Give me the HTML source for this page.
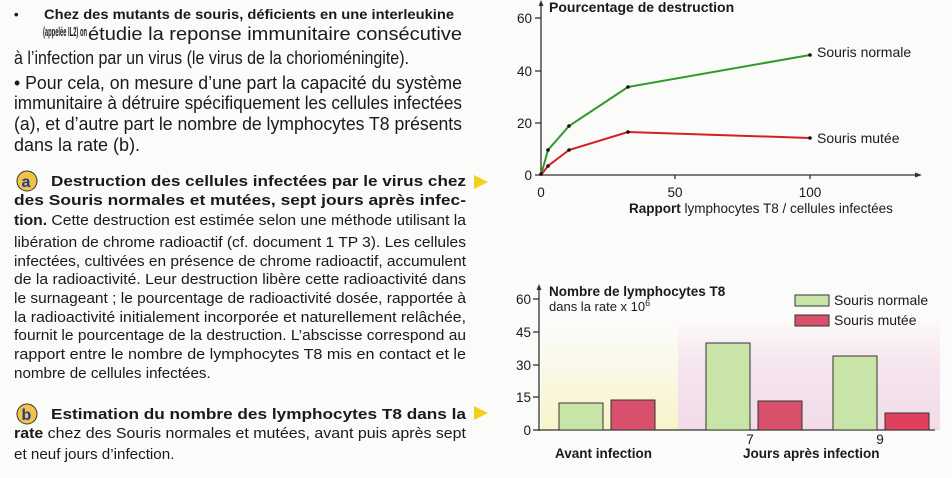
<!DOCTYPE html>
<html><head><meta charset="utf-8">
<style>
html,body{margin:0;padding:0;background:#fbfbf9;}
svg{display:block}
text{font-family:"Liberation Sans",sans-serif;fill:#1a1a1a}
.b{font-weight:bold}
.s17{font-size:18px}
.s14{font-size:15.2px}
.h{font-size:15px;font-weight:bold}
.ax{font-size:13.5px}
</style></head><body>
<svg width="952" height="478" viewBox="0 0 952 478" xmlns="http://www.w3.org/2000/svg">
<defs>
<linearGradient id="yel" x1="0" y1="0" x2="0" y2="1"><stop offset="0" stop-color="#fbfbf9"/><stop offset="1" stop-color="#f8f3c8"/></linearGradient>
<linearGradient id="pk" x1="0" y1="0" x2="0" y2="1"><stop offset="0" stop-color="#fbfbf9"/><stop offset="0.4" stop-color="#f6e4ee"/><stop offset="1" stop-color="#f1dce8"/></linearGradient>
</defs>
<rect width="952" height="478" fill="#fbfbf9"/>

<!-- left text -->
<text x="14" y="19" class="b" style="font-size:13px">•</text>
<text x="44" y="19" class="b" style="font-size:13.5px" textLength="410" lengthAdjust="spacingAndGlyphs">Chez des mutants de souris, déficients en une interleukine</text>
<text x="43" y="36" class="b" style="font-size:12.5px" textLength="44" lengthAdjust="spacingAndGlyphs">(appelée IL2) on</text>
<text x="88" y="40" class="s17" textLength="374" lengthAdjust="spacingAndGlyphs">étudie la reponse immunitaire consécutive</text>
<text x="14" y="64" class="s17" textLength="395" lengthAdjust="spacingAndGlyphs">à l’infection par un virus (le virus de la chorioméningite).</text>
<text x="14" y="89" class="s17" textLength="448" lengthAdjust="spacingAndGlyphs">• Pour cela, on mesure d’une part la capacité du système</text>
<text x="14" y="109" class="s17" textLength="448" lengthAdjust="spacingAndGlyphs">immunitaire à détruire spécifiquement les cellules infectées</text>
<text x="14" y="130" class="s17" textLength="448" lengthAdjust="spacingAndGlyphs">(a), et d’autre part le nombre de lymphocytes T8 présents</text>
<text x="14" y="151" class="s17">dans la rate (b).</text>

<circle cx="27" cy="181" r="10" fill="#f2c24a" stroke="#333" stroke-width="1"/>
<text x="21.5" y="187" class="b" style="font-size:16px;fill:#1c3c8c">a</text>
<text x="51" y="186" class="h" textLength="415" lengthAdjust="spacingAndGlyphs">Destruction des cellules infectées par le virus chez</text>
<text x="14" y="205" class="h" textLength="452" lengthAdjust="spacingAndGlyphs">des Souris normales et mutées, sept jours après infec-</text>
<text x="14" y="225" class="s14" textLength="452" lengthAdjust="spacingAndGlyphs"><tspan class="b">tion.</tspan> Cette destruction est estimée selon une méthode utilisant la</text>
<text x="14" y="247" class="s14" textLength="452" lengthAdjust="spacingAndGlyphs">libération de chrome radioactif (cf. document 1 TP 3). Les cellules</text>
<text x="14" y="266" class="s14" textLength="452" lengthAdjust="spacingAndGlyphs">infectées, cultivées en présence de chrome radioactif, accumulent</text>
<text x="14" y="284" class="s14" textLength="452" lengthAdjust="spacingAndGlyphs">de la radioactivité. Leur destruction libère cette radioactivité dans</text>
<text x="14" y="303" class="s14" textLength="452" lengthAdjust="spacingAndGlyphs">le surnageant ; le pourcentage de radioactivité dosée, rapportée à</text>
<text x="14" y="322" class="s14" textLength="452" lengthAdjust="spacingAndGlyphs">la radioactivité initialement incorporée et naturellement relâchée,</text>
<text x="14" y="340" class="s14" textLength="452" lengthAdjust="spacingAndGlyphs">fournit le pourcentage de la destruction. L’abscisse correspond au</text>
<text x="14" y="359" class="s14" textLength="452" lengthAdjust="spacingAndGlyphs">rapport entre le nombre de lymphocytes T8 mis en contact et le</text>
<text x="14" y="378" class="s14">nombre de cellules infectées.</text>

<circle cx="27" cy="414" r="10" fill="#f2c24a" stroke="#333" stroke-width="1"/>
<text x="21.5" y="420" class="b" style="font-size:16px;fill:#1c3c8c">b</text>
<text x="51" y="419" class="h" textLength="415" lengthAdjust="spacingAndGlyphs">Estimation du nombre des lymphocytes T8 dans la</text>
<text x="14" y="438" class="s14" textLength="452" lengthAdjust="spacingAndGlyphs"><tspan class="b">rate</tspan> chez des Souris normales et mutées, avant puis après sept</text>
<text x="14" y="459" class="s14">et neuf jours d’infection.</text>

<polygon points="474,175 474,189 488,182" fill="#f0d21e"/>
<polygon points="474,406 474,420 488,413" fill="#f0d21e"/>

<!-- top chart -->
<g stroke="#333" stroke-width="1.3" fill="none">
<line x1="541" y1="176" x2="541" y2="4"/>
<line x1="541" y1="175" x2="918" y2="175"/>
<line x1="535" y1="18" x2="541" y2="18"/><line x1="535" y1="71" x2="541" y2="71"/><line x1="535" y1="123" x2="541" y2="123"/><line x1="535" y1="175" x2="541" y2="175"/>
<line x1="675" y1="175" x2="675" y2="179"/><line x1="810" y1="175" x2="810" y2="179"/>
</g>
<polygon points="541,0 538.5,6 543.5,6" fill="#333"/>
<polygon points="922,175 915,172.5 915,177.5" fill="#333"/>
<text x="549" y="12" class="b" style="font-size:14px">Pourcentage de destruction</text>
<text x="532" y="23" text-anchor="end" class="ax">60</text><text x="532" y="76" text-anchor="end" class="ax">40</text><text x="532" y="128" text-anchor="end" class="ax">20</text><text x="532" y="180" text-anchor="end" class="ax">0</text>
<text x="541" y="197" text-anchor="middle" class="ax">0</text><text x="675" y="197" text-anchor="middle" class="ax">50</text><text x="810" y="197" text-anchor="middle" class="ax">100</text>
<text x="629" y="213" class="ax"><tspan class="b">Rapport</tspan> lymphocytes T8 / cellules infectées</text>
<polyline points="541,175 548,150 569,126 628,87 810,55" fill="none" stroke="#2f9a2a" stroke-width="2"/>
<polyline points="541,175 548,166 569,150 628,132 810,138" fill="none" stroke="#d42020" stroke-width="2"/>
<g fill="#111"><circle cx="541" cy="174" r="1.8"/><circle cx="548" cy="150" r="1.8"/><circle cx="569" cy="126" r="1.8"/><circle cx="628" cy="87" r="1.8"/><circle cx="810" cy="55" r="1.8"/><circle cx="548" cy="166" r="1.8"/><circle cx="569" cy="150" r="1.8"/><circle cx="628" cy="132" r="1.8"/><circle cx="810" cy="138" r="1.8"/></g>
<text x="817" y="57" class="ax" style="font-size:14px">Souris normale</text>
<text x="817" y="143" class="ax" style="font-size:14px">Souris mutée</text>

<!-- bottom chart -->
<rect x="541" y="330" width="137" height="100" fill="url(#yel)"/>
<rect x="678" y="320" width="262" height="110" fill="url(#pk)"/>
<g stroke="#333" stroke-width="1.3">
<line x1="539" y1="431" x2="539" y2="288"/>
<line x1="539" y1="430" x2="935" y2="430"/>
<line x1="533" y1="299" x2="539" y2="299"/><line x1="533" y1="332" x2="539" y2="332"/><line x1="533" y1="365" x2="539" y2="365"/><line x1="533" y1="397" x2="539" y2="397"/><line x1="533" y1="430" x2="539" y2="430"/>
</g>
<polygon points="539,284 536.5,290 541.5,290" fill="#333"/>
<g stroke="#333" stroke-width="1">
<rect x="559" y="403" width="44" height="27" fill="#c8e4a6"/>
<rect x="611" y="400" width="44" height="30" fill="#d9506c"/>
<rect x="706" y="343" width="44" height="87" fill="#c8e4a6"/>
<rect x="758" y="401" width="44" height="29" fill="#d9506c"/>
<rect x="833" y="356" width="44" height="74" fill="#c8e4a6"/>
<rect x="885" y="413" width="44" height="17" fill="#e0405e"/>
<rect x="795" y="295" width="34" height="11" fill="#c8e4a6"/>
<rect x="795" y="315" width="34" height="11" fill="#d9506c"/>
</g>
<text x="531" y="304" text-anchor="end" class="ax">60</text><text x="531" y="337" text-anchor="end" class="ax">45</text><text x="531" y="370" text-anchor="end" class="ax">30</text><text x="531" y="402" text-anchor="end" class="ax">15</text><text x="531" y="435" text-anchor="end" class="ax">0</text>
<text x="549" y="296" class="b" style="font-size:13.5px">Nombre de lymphocytes T8</text>
<text x="549" y="311" class="ax" style="font-size:13px">dans la rate x 10<tspan dy="-5" style="font-size:9px">6</tspan></text>
<text x="834" y="305" class="ax" style="font-size:14px">Souris normale</text>
<text x="834" y="325" class="ax" style="font-size:14px">Souris mutée</text>
<text x="750" y="444" text-anchor="middle" class="ax">7</text>
<text x="880" y="444" text-anchor="middle" class="ax">9</text>
<text x="555" y="458" class="b" style="font-size:13.5px">Avant infection</text>
<text x="743" y="458" class="b" style="font-size:13.5px">Jours après infection</text>
</svg>
</body></html>
